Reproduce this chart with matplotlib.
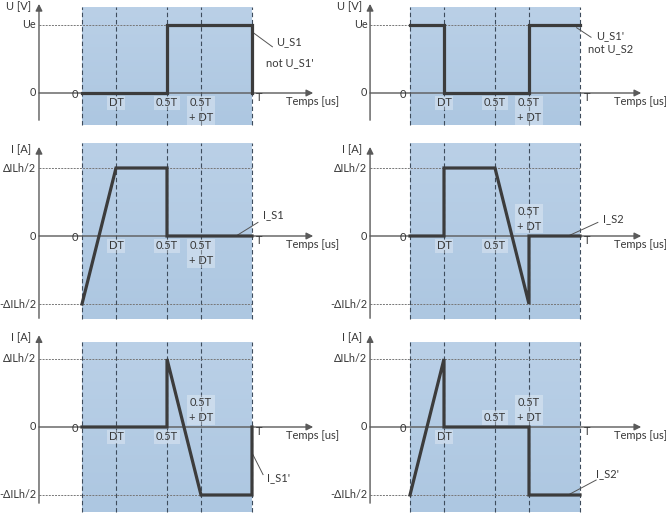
import matplotlib
matplotlib.use('Agg')
import matplotlib.pyplot as plt
import numpy as np
from matplotlib.colors import LinearSegmentedColormap

plt.rcParams['font.family'] = ['Lato', 'DejaVu Sans']
plt.rcParams['font.size'] = 8

# --- waveform data (time in units of T, value normalised: 1 = Ue or dILh/2)
t_us1 = [0, 0.5, 0.5, 1, 1]
v_us1 = [0, 0, 1, 1, 0]
t_us1p = [0, 0.2, 0.2, 0.7, 0.7, 1]
v_us1p = [1, 1, 0, 0, 1, 1]
t_is1 = [0, 0.2, 0.5, 0.5, 1]
v_is1 = [-1, 1, 1, 0, 0]
t_is2 = [0, 0.2, 0.2, 0.5, 0.7, 0.7, 1]
v_is2 = [0, 0, 1, 1, -1, 0, 0]
t_is1p = [0, 0.5, 0.5, 0.7, 1, 1]
v_is1p = [0, 0, 1, -1, -1, 0]
t_is2p = [0, 0.2, 0.2, 0.7, 0.7, 1]
v_is2p = [-1, 1, 0, 0, -1, -1]

grid_t = [0, 0.2, 0.5, 0.7, 1]
u_ticks = [0, 1]
u_ticklabels = ['0', 'Ue']
i_ticks = [1, 0, -1]
i_ticklabels = ['\u0394ILh/2', '0', '-\u0394ILh/2']

W, H = 666, 514
PX = 170.0  # pixels per T
PY = 68.0   # pixels per unit value
LINE = '#3c3c3c'
AXC = '#5a5a5a'
TXT = '#383838'
cmap = LinearSegmentedColormap.from_list('sh', ['#adc7e1', '#bad0e7'])

fig = plt.figure(figsize=(W / 100, H / 100), dpi=100)
fig.patch.set_facecolor('white')


def make_ax(px0, px1, py0, py1, x0px, y0px):
    ax = fig.add_axes([px0 / W, 1 - py1 / H, (px1 - px0) / W, (py1 - py0) / H])
    ax.set_xlim((px0 - x0px) / PX, (px1 - x0px) / PX)
    ax.set_ylim((y0px - py1) / PY, (y0px - py0) / PY)
    ax.axis('off')
    return ax


def panel(ax, t, v, shade, yax, xax_left, ylabel, ticks, ticklabels, below, above):
    xl, yl = ax.get_xlim(), ax.get_ylim()
    grad = np.linspace(0, 1, 100)[:, None]
    ax.imshow(grad, extent=[0, 1, shade[0], shade[1]], origin='lower', cmap=cmap,
              aspect='auto', zorder=0)
    for g in grid_t:
        ax.plot([g, g], shade, color='#3e4c5c', lw=0.8, ls=(0, (4, 2.5)), zorder=1)
    for tk in ticks:
        if tk != 0:
            ax.plot([xax_left, 1], [tk, tk], color='#777777', lw=0.7, ls=(0, (2, 1.2)), zorder=1)
    # axes with arrows
    ax.annotate('', xy=(1.36, 0), xytext=(xax_left, 0),
                arrowprops=dict(arrowstyle='-|>', color=AXC, lw=1, mutation_scale=10,
                                shrinkA=0, shrinkB=0), zorder=2)
    ax.annotate('', xy=(xax_left, yax[1]), xytext=(xax_left, yax[0]),
                arrowprops=dict(arrowstyle='-|>', color=AXC, lw=1, mutation_scale=10,
                                shrinkA=0, shrinkB=0), zorder=2)
    ax.annotate(ylabel, xy=(xax_left, yax[1]), xytext=(-6, -2), textcoords='offset points',
                ha='right', va='center', color=TXT)
    for tk, lb in zip(ticks, ticklabels):
        ax.annotate(lb, xy=(xax_left, tk), xytext=(-2, 0), textcoords='offset points',
                    ha='right', va='center', color=TXT, fontsize=7.8)
    ax.annotate('Temps [us]', xy=(1.2, 0), xytext=(0, -6), textcoords='offset points',
                ha='left', va='center', color=TXT)
    ax.annotate('0', xy=(-0.025, 0), xytext=(0, -1), textcoords='offset points',
                ha='right', va='center', color=TXT)
    ax.annotate('T', xy=(1.02, 0), xytext=(0, -3), textcoords='offset points',
                ha='left', va='center', color=TXT)
    box = dict(boxstyle='square,pad=0.15', fc='white', ec='none', alpha=0.3)
    for x, lb in below:
        ax.annotate(lb, xy=(x, 0), xytext=(0, -3), textcoords='offset points',
                    ha='center', va='top', color=TXT, bbox=box, linespacing=1.45)
    for x, lb in above:
        ax.annotate(lb, xy=(x, 0), xytext=(0, 3), textcoords='offset points',
                    ha='center', va='bottom', color=TXT, bbox=box, linespacing=1.45)
    ax.plot(t, v, color=LINE, lw=2.3, solid_joinstyle='miter', zorder=3)
    ax.set_xlim(xl)
    ax.set_ylim(yl)


def leader(ax, p0, p1):
    ax.plot([p0[0], p1[0]], [p0[1], p1[1]], color='#555555', lw=0.7, zorder=2)


B_ALL = [(0.2, 'DT'), (0.5, '0.5T'), (0.7, '0.5T\n+ DT')]

# top row
ax = make_ax(0, 333, 0, 135, 82, 93)
panel(ax, t_us1, v_us1, (-0.47, 1.265), (-0.4, 1.31), -0.253, 'U [V]',
      u_ticks, u_ticklabels, B_ALL, [])
leader(ax, (1.0, 0.9), (1.12, 0.68))
ax.text(1.22, 0.76, 'U_S1', ha='center', va='center', color=TXT)
ax.text(1.22, 0.45, "not U_S1'", ha='center', va='center', color=TXT)

ax = make_ax(333, 666, 0, 135, 410, 93)
panel(ax, t_us1p, v_us1p, (-0.47, 1.265), (-0.4, 1.31), -0.235, 'U [V]',
      u_ticks, u_ticklabels, B_ALL, [])
leader(ax, (0.98, 0.96), (1.065, 0.82))
ax.text(1.18, 0.85, "U_S1'", ha='center', va='center', color=TXT)
ax.text(1.18, 0.66, 'not U_S2', ha='center', va='center', color=TXT)

# middle row
ax = make_ax(0, 333, 135, 320, 82, 236)
panel(ax, t_is1, v_is1, (-1.22, 1.368), (-1.21, 1.31), -0.253, 'I [A]',
      i_ticks, i_ticklabels, B_ALL, [])
leader(ax, (0.906, 0), (1.035, 0.2))
ax.text(1.065, 0.31, 'I_S1', ha='left', va='center', color=TXT)

ax = make_ax(333, 666, 135, 320, 410, 236)
panel(ax, t_is2, v_is2, (-1.22, 1.368), (-1.21, 1.31), -0.235, 'I [A]',
      i_ticks, i_ticklabels, B_ALL[:2], [(0.7, '0.5T\n+ DT')])
leader(ax, (0.93, 0), (1.105, 0.2))
ax.text(1.135, 0.26, 'I_S2', ha='left', va='center', color=TXT)

# bottom row
ax = make_ax(0, 333, 320, 514, 82, 427)
panel(ax, t_is1p, v_is1p, (-1.25, 1.25), (-1.12, 1.35), -0.253, 'I [A]',
      i_ticks, i_ticklabels, B_ALL[:2], [(0.7, '0.5T\n+ DT')])
leader(ax, (1.0, -0.38), (1.065, -0.7))
ax.text(1.088, -0.74, "I_S1'", ha='left', va='center', color=TXT)

ax = make_ax(333, 666, 320, 514, 410, 427)
panel(ax, t_is2p, v_is2p, (-1.25, 1.25), (-1.12, 1.35), -0.235, 'I [A]',
      i_ticks, i_ticklabels, B_ALL[:1], [(0.5, '0.5T'), (0.7, '0.5T\n+ DT')])
leader(ax, (0.93, -1), (1.095, -0.78))
ax.text(1.095, -0.69, "I_S2'", ha='left', va='center', color=TXT)

fig.savefig('out.png', dpi=100, facecolor='white')
